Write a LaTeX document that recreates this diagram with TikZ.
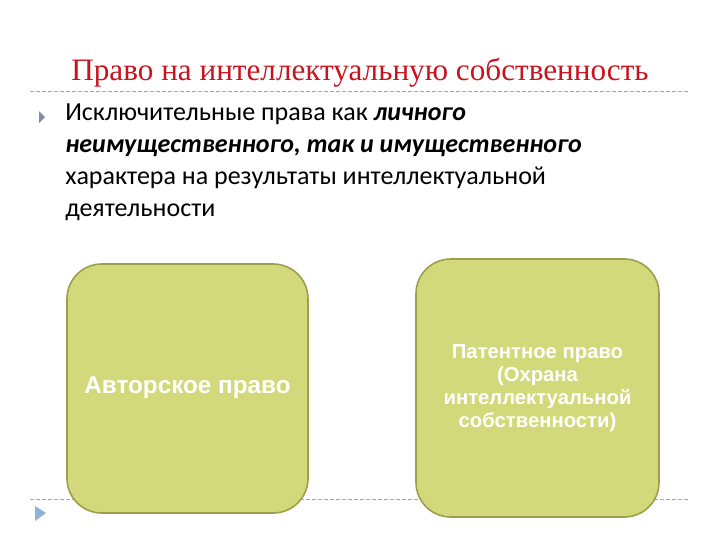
\documentclass[tikz,border=0pt]{standalone}
\usepackage{fontspec}
\setmainfont{Liberation Serif}
\newfontfamily\bodyfont{Carlito}
\newfontfamily\boxfont{Liberation Sans}
\definecolor{titlered}{HTML}{C8141E}
\definecolor{boxfill}{HTML}{D2D97A}
\definecolor{boxline}{HTML}{9CA04C}
\definecolor{dashgrey}{HTML}{A6A6A6}
\definecolor{bulletgrey}{HTML}{7F8FA9}
\definecolor{arrowblue}{HTML}{8DB3D9}
\begin{document}
\begin{tikzpicture}[x=0.75pt,y=-0.75pt,
  rbox/.style={draw=boxline,line width=1.2pt,fill=boxfill,rounded corners=26pt},
  boxtext/.style={text=white,align=center},
  sep/.style={draw=dashgrey,dashed,dash pattern=on 3pt off 1.5pt,line width=0.5pt}]
\useasboundingbox (0,0) rectangle (720,540);
\fill[white] (0,0) rectangle (720,540);
% title
\node[font=\fontsize{23.4}{28}\selectfont,text=titlered,anchor=base] (title) at (360,80) {Право на интеллектуальную собственность};
\coordinate (s1a) at (30,91); \coordinate (s1b) at (690,91);
\draw[sep] (s1a) -- (s1b);
\coordinate (s2a) at (30,499); \coordinate (s2b) at (690,499);
\draw[sep] (s2a) -- (s2b);
% bullet
\fill[bulletgrey] (39,111) -- (45,117) -- (39,123) -- cycle;
% body text
\node[anchor=north west,align=left,font=\bodyfont\fontsize{19.5}{24}\selectfont,inner sep=0pt] (body) at (65,104)
{Исключительные права как \textbf{\textit{личного}}\\
\textbf{\textit{неимущественного, так и имущественного}}\\
характера на результаты интеллектуальной\\
деятельности};
% boxes
\draw[rbox] (67,264) rectangle (308,513);
\node[boxtext,font=\boxfont\bfseries\fontsize{18.2}{21}\selectfont] (left) at (187.5,388) {Авторское право};
\draw[rbox] (416,259) rectangle (659,517);
\node[boxtext,font=\boxfont\bfseries\fontsize{15.2}{17.3}\selectfont] (right) at (537.5,388) {Патентное право\\(Охрана\\интеллектуальной\\собственности)};
% bottom arrow
\fill[arrowblue] (35,506) -- (46,513) -- (35,521) -- cycle;
\end{tikzpicture}
\end{document}
